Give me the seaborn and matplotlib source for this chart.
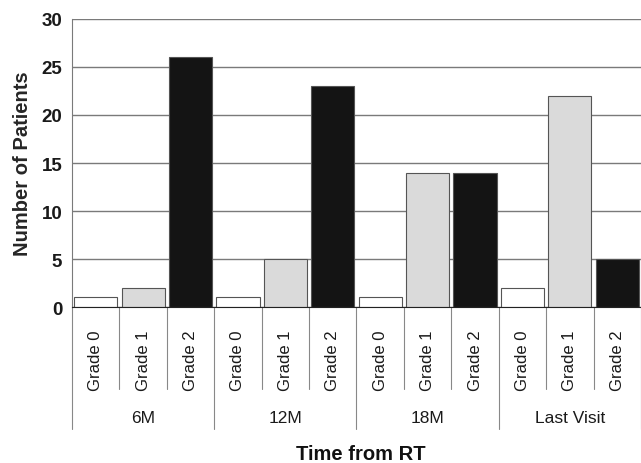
import matplotlib
matplotlib.use("Agg")
import matplotlib.pyplot as plt
from matplotlib.lines import Line2D
import pandas as pd
import seaborn as sns
import numpy as np

# data
times = ["6M", "12M", "18M", "Last Visit"]
grades = ["Grade 0", "Grade 1", "Grade 2"]
grade0 = [1, 1, 1, 2]
grade1 = [2, 5, 14, 22]
grade2 = [26, 23, 14, 5]

df = pd.DataFrame({
    "time": times * 3,
    "grade": [grades[0]] * 4 + [grades[1]] * 4 + [grades[2]] * 4,
    "patients": grade0 + grade1 + grade2,
})

sns.set_style("white")
plt.rcParams['font.family'] = ['Liberation Sans', 'DejaVu Sans']

fig = plt.figure(figsize=(6.41, 4.64), dpi=100)
ax = fig.add_axes([0.1123, 0.336, 0.8877, 0.621])

pal = {"Grade 0": "#ffffff", "Grade 1": "#dadada", "Grade 2": "#141414"}
sns.barplot(data=df, x="time", y="patients", hue="grade", order=times,
            hue_order=grades, palette=pal, width=1.0, gap=0.09,
            edgecolor="#555555", linewidth=0.8, saturation=1, legend=False, ax=ax)

ax.set_ylim(0, 30)
ax.set_xlim(-0.5, len(times) - 0.5)
ax.set_yticks(np.arange(0, 31, 5))
ax.yaxis.grid(True, color="#7a7a7a", lw=1)
ax.set_axisbelow(True)
ax.tick_params(axis="y", length=0, pad=7, labelsize=13.5)
for t in ax.get_yticklabels():
    t.set_fontweight("bold")
    t.set_color("#1a1a1a")
ax.set_xticks([])
ax.set_xlabel("")
ax.set_ylabel("Number of Patients", fontsize=14.5, fontweight="bold", labelpad=7)
for s in ["top", "right"]:
    ax.spines[s].set_visible(False)
ax.spines["left"].set_color("#7a7a7a")
ax.spines["bottom"].set_color("#222222")

# hierarchical category axis below the plot
tr = ax.get_xaxis_transform()
slot = 1.0 / len(grades)
for i, tm in enumerate(times):
    for j, g in enumerate(grades):
        xc = i - 0.5 + slot * (j + 0.5)
        ax.text(xc, -0.181, g, rotation=90, ha="center", va="center",
                fontsize=12, color="#1a1a1a", transform=tr)
        if j > 0:
            xs = i - 0.5 + slot * j
            ax.add_line(Line2D([xs, xs], [0, -0.285], color="#888888", lw=0.8,
                               transform=tr, clip_on=False))
    ax.text(i, -0.382, tm, ha="center", va="center", fontsize=12.5,
            color="#1a1a1a", transform=tr)
for k in range(len(times) + 1):
    xs = k - 0.5
    ax.add_line(Line2D([xs, xs], [0, -0.424], color="#888888", lw=0.8,
                       transform=tr, clip_on=False))

ax.text(1.53, -0.507, "Time from RT", ha="center", va="center", fontsize=14.5,
        fontweight="bold", color="#111111", transform=tr)

fig.savefig("out.png", dpi=100)
